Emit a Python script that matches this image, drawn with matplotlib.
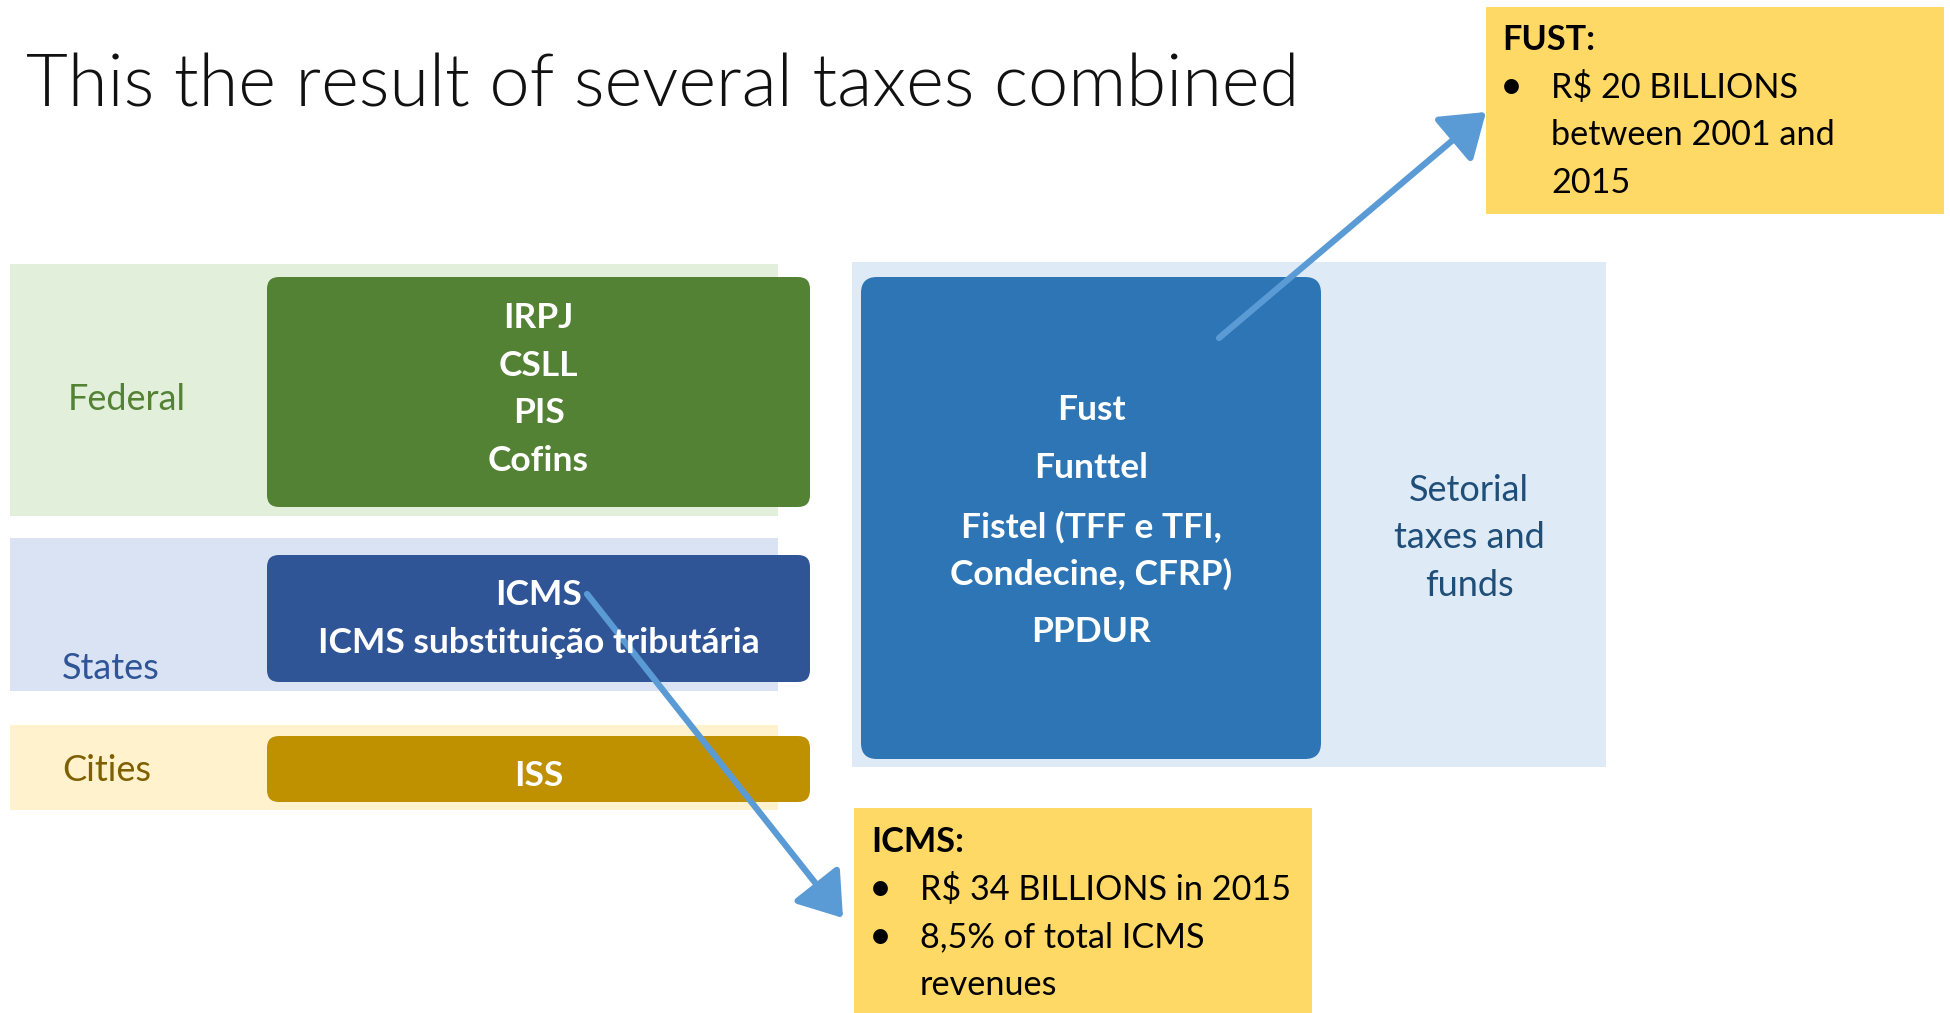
import matplotlib.pyplot as plt
from matplotlib.patches import Rectangle, FancyBboxPatch, FancyArrowPatch

# --- content ---
title = "This the result of several taxes combined"
levels = ["Federal", "States", "Cities"]
level_taxes = [["IRPJ", "CSLL", "PIS", "Cofins"],
               ["ICMS", "ICMS substituição tributária"],
               ["ISS"]]
setorial_taxes = [["Fust"], ["Funttel"], ["Fistel (TFF e TFI,", "Condecine, CFRP)"], ["PPDUR"]]
setorial_label = ["Setorial", "taxes and", "funds"]
fust_head = "FUST:"
fust_items = [["R$ 20 BILLIONS", "between 2001 and", "2015"]]
icms_head = "ICMS:"
icms_items = [["R$ 34 BILLIONS in 2015"], ["8,5% of total ICMS", "revenues"]]

# --- layout (pixels, y down) ---
W, H = 1950, 1013
band_colors = ["#e2efda", "#dae3f3", "#fff2cc"]
box_colors = ["#548235", "#2f5597", "#bf9000"]
label_colors = ["#548235", "#2f5597", "#7f6000"]
bands = [(10, 264, 768, 252), (10, 538, 768, 153), (10, 725, 768, 85)]
boxes = [(267, 277, 543, 230), (267, 555, 543, 127), (267, 736, 543, 66)]
label_pos = [(68, 399), (62, 668), (62, 770)]
text_y0 = [318, 595, 776]
step = 47.5
arrow_col = "#5b9bd5"
yellow = "#ffd966"
fs_box = 25.5
fs_body = 24.7

plt.rcParams["font.family"] = ["Lato", "DejaVu Sans"]

fig = plt.figure(figsize=(W / 100, H / 100), dpi=100)
ax = fig.add_axes([0, 0, 1, 1])
ax.set_xlim(0, W)
ax.set_ylim(H, 0)
ax.axis("off")

ax.text(26, 106, title, fontsize=52, fontweight=300, va="baseline", ha="left",
        color="#111111")

for i, lvl in enumerate(levels):
    x, y, w, h = bands[i]
    ax.add_patch(Rectangle((x, y), w, h, facecolor=band_colors[i], edgecolor="none"))
    bx, by, bw, bh = boxes[i]
    ax.add_patch(FancyBboxPatch((bx + 12, by + 12), bw - 24, bh - 24,
                                boxstyle="round,pad=12", facecolor=box_colors[i],
                                edgecolor="none"))
    ax.text(label_pos[i][0], label_pos[i][1], lvl, fontsize=26, color=label_colors[i],
            ha="left", va="center")
    for j, t in enumerate(level_taxes[i]):
        ax.text(bx + bw / 2, text_y0[i] + j * step, t, fontsize=fs_box, fontweight="bold",
                color="white", ha="center", va="center")

# setorial block
ax.add_patch(Rectangle((852, 262), 754, 505, facecolor="#deebf7", edgecolor="none"))
ax.add_patch(FancyBboxPatch((861 + 16, 277 + 16), 460 - 32, 482 - 32,
                            boxstyle="round,pad=16", facecolor="#2e75b6", edgecolor="none"))
sy = [410, 468, 527, 632]
for lines, y in zip(setorial_taxes, sy):
    for k, t in enumerate(lines):
        ax.text(1091, y + k * step, t, fontsize=fs_box, fontweight="bold", color="white",
                ha="center", va="center")
for k, t in enumerate(setorial_label):
    ax.text(1469, 490 + k * step, t, fontsize=26, color="#1f4e79", ha="center", va="center")

# callouts
def callout(x, y, w, h, head, items, tx, ty):
    ax.add_patch(Rectangle((x, y), w, h, facecolor=yellow, edgecolor="none"))
    ax.text(tx, ty, head, fontsize=fs_body, fontweight="bold", ha="left", va="center")
    yy = ty + step
    for lines in items:
        ax.text(tx - 2, yy, "•", fontsize=fs_body + 4, ha="left", va="center")
        for t in lines:
            ax.text(tx + 49, yy, t, fontsize=fs_body, ha="left", va="center")
            yy += step

callout(1486, 7, 458, 207, fust_head, fust_items, 1502, 40)
callout(854, 808, 458, 205, icms_head, icms_items, 871, 842)

# arrows
for (x0, y0), (x1, y1) in [((1219, 338), (1486, 112)), ((587, 594), (843, 918))]:
    ax.add_patch(FancyArrowPatch((x0, y0), (x1, y1),
                                 arrowstyle="-|>,head_length=1.3,head_width=0.9",
                                 mutation_scale=20, color=arrow_col, lw=4.5,
                                 shrinkA=0, shrinkB=0))

fig.savefig("out.png", dpi=100)
